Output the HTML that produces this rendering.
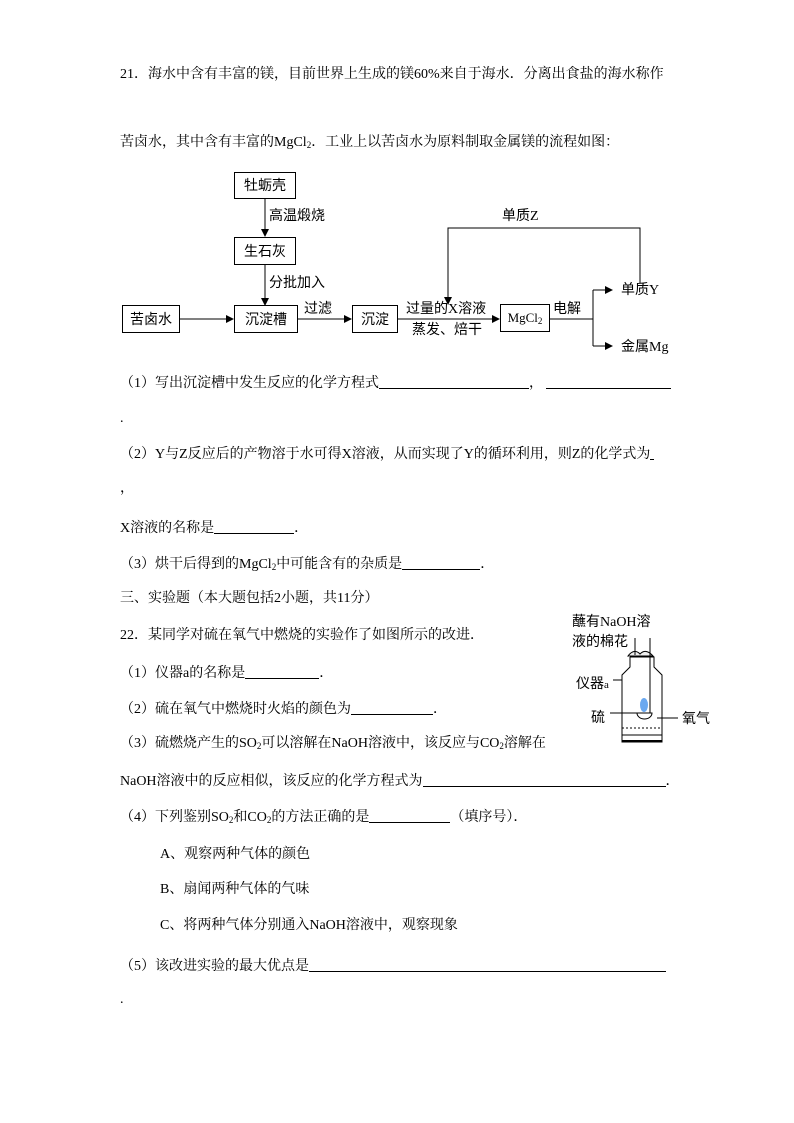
<!DOCTYPE html>
<html><head><meta charset="utf-8"><style>
body{margin:0;width:794px;height:1123px;background:#fff;position:relative;font-family:"Liberation Serif","Noto Serif CJK SC","Noto Sans CJK SC",serif;font-size:14px;color:#000;overflow:hidden}
.t{position:absolute;white-space:nowrap;line-height:16px}
.u{display:inline-block;border-bottom:1px solid #000;height:14px;vertical-align:-2px}
sub{font-size:9px;vertical-align:-2px}
.b{position:absolute;border:1px solid #000;box-sizing:border-box;text-align:center;font-family:"Noto Sans CJK SC",sans-serif;font-size:14px}
.s{font-family:"Noto Sans CJK SC",sans-serif}
</style></head><body>
<div class="t" style="left:120px;top:67px">21．海水中含有丰富的镁，目前世界上生成的镁60%来自于海水．分离出食盐的海水称作</div>
<div class="t" style="left:120px;top:135px">苦卤水，其中含有丰富的MgCl<sub>2</sub>．工业上以苦卤水为原料制取金属镁的流程如图：</div>

<svg style="position:absolute;left:0;top:0" width="794" height="400">
<defs><marker id="a" markerWidth="8" markerHeight="8" refX="7" refY="4" orient="auto" markerUnits="userSpaceOnUse"><path d="M0,0L8,4L0,8z"/></marker></defs>
<g stroke="#000" stroke-width="1" fill="none">
<line x1="265" y1="198" x2="265" y2="236" marker-end="url(#a)"/>
<line x1="265" y1="265" x2="265" y2="305" marker-end="url(#a)"/>
<line x1="180" y1="319" x2="233" y2="319" marker-end="url(#a)"/>
<line x1="298" y1="319" x2="351" y2="319" marker-end="url(#a)"/>
<line x1="398" y1="319" x2="499" y2="319" marker-end="url(#a)"/>
<line x1="550" y1="319" x2="593" y2="319"/>
<line x1="593" y1="290" x2="593" y2="346"/>
<line x1="593" y1="290" x2="612" y2="290" marker-end="url(#a)"/>
<line x1="593" y1="346" x2="612" y2="346" marker-end="url(#a)"/>
<polyline points="640,283 640,228 448,228 448,304" marker-end="url(#a)"/>
</g></svg>
<div class="b" style="left:234px;top:172px;width:62px;height:27px;line-height:25px">牡蛎壳</div>
<div class="b" style="left:234px;top:237px;width:62px;height:28px;line-height:26px">生石灰</div>
<div class="b" style="left:234px;top:305px;width:64px;height:28px;line-height:26px">沉淀槽</div>
<div class="b" style="left:122px;top:305px;width:58px;height:28px;line-height:26px">苦卤水</div>
<div class="b" style="left:352px;top:305px;width:46px;height:28px;line-height:26px">沉淀</div>
<div class="b" style="left:500px;top:304px;width:50px;height:28px;line-height:26px;font-family:'Liberation Serif',serif;font-size:13px">MgCl<sub>2</sub></div>
<div class="t s" style="left:269px;top:207px">高温煅烧</div>
<div class="t s" style="left:269px;top:274px">分批加入</div>
<div class="t s" style="left:304px;top:300px">过滤</div>
<div class="t s" style="left:406px;top:300px">过量的<span style="font-family:'Liberation Serif',serif">X</span>溶液</div>
<div class="t s" style="left:412px;top:321px">蒸发、焙干</div>
<div class="t s" style="left:553px;top:300px">电解</div>
<div class="t s" style="left:502px;top:207px">单质<span style="font-family:'Liberation Serif',serif">Z</span></div>
<div class="t s" style="left:621px;top:281px">单质<span style="font-family:'Liberation Serif',serif">Y</span></div>
<div class="t s" style="left:621px;top:338px">金属<span style="font-family:'Liberation Serif',serif">Mg</span></div>

<div class="t" style="left:120px;top:374px">（1）写出沉淀槽中发生反应的化学方程式<span class="u" style="width:150px"></span>，<span class="u" style="width:125px;margin-left:3px"></span></div>
<div class="t" style="left:120px;top:411px">.</div>
<div class="t" style="left:120px;top:445px">（2）Y与Z反应后的产物溶于水可得X溶液，从而实现了Y的循环利用，则Z的化学式为<span class="u" style="width:4px"></span></div>
<div class="t" style="left:120px;top:481px">，</div>
<div class="t" style="left:120px;top:519px">X溶液的名称是<span class="u" style="width:80px"></span>．</div>
<div class="t" style="left:120px;top:555px">（3）烘干后得到的MgCl<sub>2</sub>中可能含有的杂质是<span class="u" style="width:78px"></span>．</div>
<div class="t" style="left:120px;top:591px">三、实验题（本大题包括2小题，共11分）</div>
<div class="t" style="left:120px;top:628px">22．某同学对硫在氧气中燃烧的实验作了如图所示的改进．</div>
<div class="t" style="left:120px;top:664px">（1）仪器a的名称是<span class="u" style="width:74px"></span>．</div>
<div class="t" style="left:120px;top:700px">（2）硫在氧气中燃烧时火焰的颜色为<span class="u" style="width:82px"></span>．</div>
<div class="t" style="left:120px;top:736px">（3）硫燃烧产生的SO<sub>2</sub>可以溶解在NaOH溶液中，该反应与CO<sub>2</sub>溶解在</div>
<div class="t" style="left:120px;top:772px">NaOH溶液中的反应相似，该反应的化学方程式为<span class="u" style="width:243px"></span>．</div>
<div class="t" style="left:120px;top:808px">（4）下列鉴别SO<sub>2</sub>和CO<sub>2</sub>的方法正确的是<span class="u" style="width:81px"></span>（填序号）．</div>
<div class="t" style="left:160px;top:847px">A、观察两种气体的颜色</div>
<div class="t" style="left:160px;top:882px">B、扇闻两种气体的气味</div>
<div class="t" style="left:160px;top:918px">C、将两种气体分别通入NaOH溶液中，观察现象</div>
<div class="t" style="left:120px;top:957px">（5）该改进实验的最大优点是<span class="u" style="width:357px"></span></div>
<div class="t" style="left:120px;top:992px">.</div>

<div class="t s" style="left:572px;top:613px">蘸有<span style="font-family:'Liberation Serif',serif">NaOH</span>溶</div>
<div class="t s" style="left:572px;top:633px">液的棉花</div>
<div class="t s" style="left:576px;top:675px">仪器<span style="font-family:'Liberation Serif',serif;font-size:11px">a</span></div>
<div class="t s" style="left:591px;top:709px">硫</div>
<div class="t s" style="left:682px;top:710px">氧气</div>
<svg style="position:absolute;left:0;top:0" width="794" height="800">
<g stroke="#000" stroke-width="1" fill="none">
<path d="M628,656 q6,-8 12,-2 q6,-6 13,2 z" fill="#eee"/>
<line x1="635" y1="638" x2="635" y2="655"/>
<line x1="650" y1="638" x2="650" y2="713"/>
<path d="M630,657 v10 l-8,8 v67 h40 v-67 l-8,-8 v-10 h-24"/>
<line x1="613" y1="680" x2="622" y2="680"/>
<line x1="610" y1="713" x2="637" y2="713"/>
<line x1="657" y1="718" x2="678" y2="718"/>
<path d="M637,713 a7.5,6 0 0 0 15,0 z" fill="#fff"/>
<line x1="622" y1="728" x2="662" y2="728" stroke-dasharray="2,2"/>
<line x1="622" y1="735" x2="662" y2="735"/>
<line x1="622" y1="741" x2="662" y2="741" stroke-width="2"/>
</g>
<ellipse cx="644" cy="705" rx="4" ry="7" fill="#6aa8f0"/>
</svg>
</body></html>
